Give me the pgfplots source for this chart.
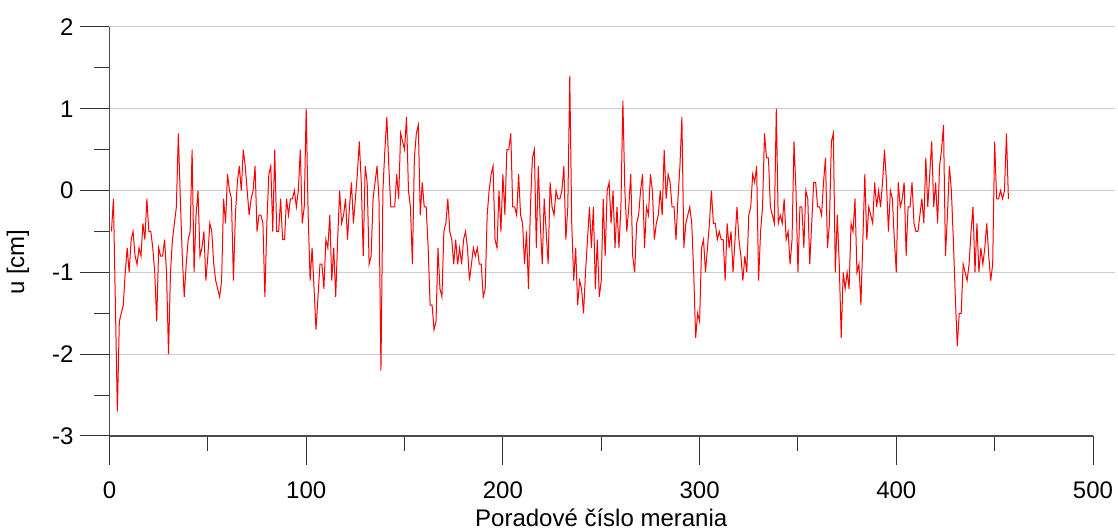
\documentclass[border=0pt]{standalone}
\usepackage{fontspec}
\setmainfont{Liberation Sans}
\usepackage{pgfplots}
\pgfplotsset{compat=1.18}
\usepackage{pgfplotstable}
\pgfplotstableread{
y
-0.5
-0.1
-1.4
-2.7
-1.6
-1.5
-1.4
-1.0
-0.7
-1.0
-0.6
-0.5
-0.8
-0.9
-0.7
-0.8
-0.4
-0.6
-0.1
-0.5
-0.5
-0.7
-1.0
-1.6
-0.7
-0.8
-0.8
-0.6
-1.0
-2.0
-1.0
-0.6
-0.4
-0.2
0.7
-0.1
-0.8
-1.3
-0.9
-0.6
-0.5
0.5
-1.0
-0.3
0.0
-0.8
-0.7
-0.5
-1.1
-0.8
-0.4
-0.5
-0.9
-1.1
-1.2
-1.3
-1.1
-0.1
-0.4
0.2
0.0
-0.1
-1.1
-0.3
0.1
0.3
0.0
0.5
0.3
0.0
-0.3
-0.1
0.0
0.3
-0.5
-0.3
-0.3
-0.4
-1.3
-0.4
0.2
0.3
-0.5
0.5
-0.5
-0.5
-0.1
-0.6
-0.6
-0.1
-0.3
-0.1
-0.1
0.0
-0.2
0.0
0.5
-0.4
-0.2
1.0
-0.3
-1.1
-0.7
-1.2
-1.7
-1.3
-0.9
-0.9
-1.2
-0.6
-0.7
-0.3
-1.1
-0.7
-1.3
-0.6
0.0
-0.4
-0.3
-0.1
-0.6
-0.2
0.1
-0.4
-0.1
0.2
0.6
0.1
-0.8
0.3
0.1
-0.9
-0.8
-0.1
0.1
0.3
-0.1
-2.2
0.0
0.5
0.9
0.3
-0.2
-0.2
-0.2
0.2
-0.1
0.7
0.6
0.5
0.9
0.0
-0.2
-0.9
0.4
0.7
0.8
-0.3
0.1
-0.2
-0.2
-0.7
-1.4
-1.4
-1.7
-1.6
-0.7
-1.2
-1.3
-0.5
-0.4
-0.1
-0.5
-0.6
-0.9
-0.6
-0.9
-0.7
-0.9
-0.6
-0.5
-0.7
-1.1
-0.9
-0.7
-0.8
-0.7
-0.9
-0.9
-1.3
-1.2
-0.3
0.0
0.2
0.3
-0.6
-0.7
0.0
-0.5
0.2
-0.3
0.5
0.5
0.7
-0.2
-0.2
-0.3
0.2
-0.3
-0.4
-0.9
-0.5
-1.2
-0.2
0.4
0.5
-0.7
0.3
-0.4
-0.9
-0.1
-0.5
-0.9
0.1
-0.2
-0.3
0.0
-0.1
-0.1
0.0
0.3
-0.6
-0.2
1.4
-0.4
-1.1
-0.7
-1.4
-1.1
-1.2
-1.5
-1.0
-0.6
-0.2
-0.7
-0.2
-1.2
-0.6
-1.3
-1.1
-0.1
-0.8
0.0
0.1
-0.4
0.0
-0.7
-0.2
-0.7
-0.2
1.1
0.0
-0.5
-0.2
0.2
-0.8
-1.0
-0.4
-0.3
0.0
0.2
-0.7
-0.2
-0.3
0.2
0.0
-0.6
-0.4
-0.3
0.0
-0.3
0.5
-0.1
0.2
0.1
-0.2
-0.2
-0.6
-0.1
0.3
0.9
-0.7
-0.4
-0.3
-0.2
-0.4
-1.0
-1.8
-1.5
-1.6
-0.7
-0.6
-1.0
-0.7
-0.4
0.0
-0.4
-0.4
-0.6
-0.5
-0.6
-0.6
-1.1
-0.4
-0.7
-0.5
-1.0
-0.6
-0.2
-0.6
-0.8
-1.1
-0.8
-1.0
-0.3
-0.2
0.2
0.1
0.3
-1.1
-0.5
-0.2
0.7
0.4
0.4
-0.2
-0.3
-0.4
1.0
-0.4
-0.3
-0.4
-0.1
-0.6
-0.5
-0.9
-0.6
0.6
0.0
-1.0
-0.2
-0.2
-0.7
0.0
-0.1
-0.9
-0.4
0.1
0.1
-0.2
-0.2
-0.3
0.1
0.4
-0.7
-0.4
0.6
0.7
-1.0
-0.3
-0.9
-1.8
-1.0
-1.2
-1.0
-1.2
-0.4
-0.5
-0.1
-1.0
-0.9
-1.4
-0.6
0.2
-0.6
-0.2
-0.3
-0.4
0.1
-0.2
0.0
-0.2
0.1
0.5
0.1
-0.5
0.0
-0.1
-0.6
-1.0
0.1
-0.2
-0.1
0.1
-0.8
-0.2
-0.2
0.1
-0.4
-0.5
-0.5
-0.3
-0.1
-0.4
0.4
-0.2
0.2
0.6
-0.2
0.1
-0.4
0.3
0.5
0.8
-0.8
-0.3
0.3
0.0
-0.6
-1.3
-1.9
-1.5
-1.5
-0.9
-1.0
-1.1
-0.9
-0.5
-0.2
-1.0
-0.4
-1.0
-0.7
-0.9
-0.7
-0.4
-0.8
-1.1
-0.9
0.6
-0.1
-0.1
0.0
-0.1
0.0
0.7
-0.1
}\datatable
\begin{document}
\begin{tikzpicture}
\begin{axis}[
  name=ax, at={(0,0)}, anchor=south west,
  scale only axis, width=491.75pt, height=204.5pt,
  xmin=0, xmax=500, ymin=-3, ymax=2,
  axis x line*=bottom, axis y line*=left,
  axis line style={-, black!70, line width=0.6pt},
  xtick={0,100,...,500}, minor xtick={50,150,...,450},
  ytick={-3,...,2}, minor ytick={-2.5,-1.5,...,1.5},
  tick align=outside,
  major tick length=14.5pt, minor tick length=7.5pt,
  tick style={black!80, line width=0.5pt},
  ymajorgrids, major grid style={black!20, line width=0.5pt},
  /pgf/number format/assume math mode=true,
  tick label style={font=\fontsize{12}{14}\selectfont},
  xticklabel style={yshift=-5pt},
  label style={font=\fontsize{12}{14}\selectfont},
  xlabel={Poradové číslo merania},
  ylabel={u [cm]},
  xlabel style={at={(axis description cs:0.5,-0.222)}, anchor=base},
  ylabel style={at={(axis description cs:-0.093,0.425)}, anchor=center},
  clip=false,
]
\pgfplotsinvokeforeach{-2,-1,0,1,2}{
  \draw[black!20, line width=0.5pt] (axis cs:500,#1) -- (axis cs:511,#1);
}
\addplot[red, line width=0.5pt, mark=none] table[x expr=\coordindex+1, y=y] {\datatable};
\end{axis}
\pgfresetboundingbox
\path[use as bounding box] (-54.75pt,-46.5pt) rectangle (504.25pt,218pt);
\end{tikzpicture}
\end{document}
